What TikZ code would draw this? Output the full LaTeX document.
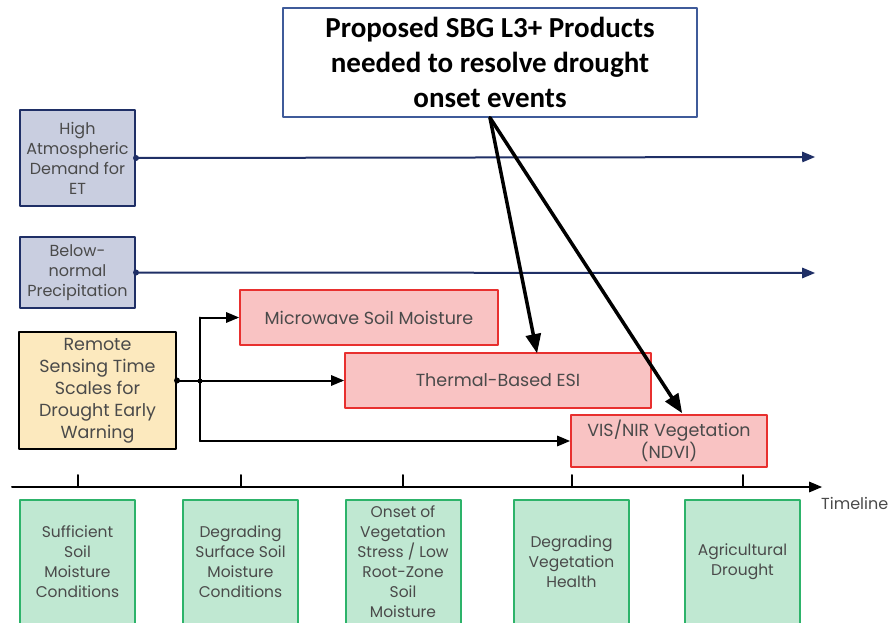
\documentclass[tikz,border=0pt]{standalone}
\usepackage{fontspec}
\setmainfont{Poppins}
\newfontfamily\calibri{Carlito}
\usepackage{tikz}
\usetikzlibrary{arrows}

\definecolor{factorfill}{HTML}{C9CEE0}
\definecolor{navy}{HTML}{1F2F66}
\definecolor{rsfill}{HTML}{FCE9BE}
\definecolor{prodfill}{HTML}{F9C3C3}
\definecolor{prodline}{HTML}{E8302F}
\definecolor{stagefill}{HTML}{C0E8D2}
\definecolor{stageline}{HTML}{2DB36A}
\definecolor{txtgray}{HTML}{4A4A4A}
\definecolor{boxblue}{HTML}{3F5B9A}

\begin{document}
\begin{tikzpicture}[line cap=round,line join=round,>=triangle 45,x=1pt,y=-1pt]
\useasboundingbox (0,0) rectangle (889,623);
\tikzstyle{txt}=[text=txtgray,align=center,font=\fontsize{16}{20}\selectfont,inner sep=0pt]
\tikzstyle{factor}=[txt,draw=navy,fill=factorfill,line width=2pt,minimum width=115]
\tikzstyle{rsbox}=[txt,draw=black,fill=rsfill,line width=2pt,minimum width=157,minimum height=117,font=\fontsize{17.5}{22}\selectfont]
\tikzstyle{product}=[txt,draw=prodline,fill=prodfill,line width=2pt,font=\fontsize{17.5}{21}\selectfont]
\tikzstyle{stage}=[txt,draw=stageline,fill=stagefill,line width=2pt,minimum width=115,minimum height=124,font=\fontsize{15.5}{20}\selectfont]
\tikzstyle{link}=[line width=2pt]
\tikzstyle{bigarrow}=[line width=3.5pt,->]

% drivers on the left
\node[factor,minimum height=96] (hiET) at (77.5,158) {High\\Atmospheric\\Demand for\\ET};
\node[factor,minimum height=71] (precip) at (77.5,272.5) {Below-\\normal\\Precipitation};
\node[rsbox] (rs) at (97.5,390.5) {Remote\\Sensing Time\\Scales for\\Drought Early\\Warning};

% remote sensing products
\node[product,minimum width=258,minimum height=55] (mw) at (369,317.5) {Microwave Soil Moisture};
\node[product,minimum width=306,minimum height=55] (esi) at (498,380.5) {Thermal-Based ESI};
\node[product,minimum width=196,minimum height=52] (ndvi) at (669,441) {VIS/NIR Vegetation\\(NDVI)};

\node[draw=boxblue,fill=white,line width=1.5pt,minimum width=414,minimum height=109,align=center,
  font=\calibri\bfseries\fontsize{29}{35}\selectfont,inner sep=0pt] (sbg) at (490,62.5)
  {Proposed SBG L3+ Products\\needed to resolve drought\\onset events};

% stages along the timeline
\node[stage] (s1) at (77.5,562) {Sufficient\\Soil\\Moisture\\Conditions};
\node[stage] (s2) at (240.5,562) {Degrading\\Surface Soil\\Moisture\\Conditions};
\node[stage] (s3) at (403,562) {Onset of\\Vegetation\\Stress / Low\\Root-Zone\\Soil\\Moisture};
\node[stage] (s4) at (571.5,562) {Degrading\\Vegetation\\Health};
\node[stage] (s5) at (742.5,562) {Agricultural\\Drought};

% horizontal driver lines
\coordinate (hiEnd) at (815,157);
\coordinate (prEnd) at (815,273);
\draw[navy,link,->] (hiET.east) -- (hiEnd);
\draw[navy,link,->] (precip.east) -- (prEnd);
\fill[navy] (hiET.east) circle (3pt);
\fill[navy] (precip.east) circle (3pt);

% branches from the remote sensing box
\coordinate (rsOut) at (rs.east |- esi.west);
\coordinate (jn) at (200,381);
\draw[link,->] (rsOut) -- (esi.west);
\draw[link,->] (jn |- mw.west) -- (mw.west);
\draw[link,->] (jn |- ndvi.west) -- (ndvi.west);
\draw[link] (jn |- mw.west) -- (jn |- ndvi.west);
\fill (rsOut) circle (3pt);
\fill (jn) circle (2.5pt);

% timeline
\coordinate (tlStart) at (12,487);
\coordinate (tlEnd) at (822,487);
\draw[link,->] (tlStart) -- (tlEnd);
\foreach \s in {s1,s2,s3,s4,s5}
  \draw[link] (\s.north |- tlStart) -- ++(0,-12);
\node[txt,anchor=west,font=\fontsize{16}{18}\selectfont] (tl) at (821,503) {Timeline};

% proposed products
\draw[bigarrow] (sbg.south) -- (537,353);
\draw[bigarrow] (sbg.south) -- (682,413);
\end{tikzpicture}
\end{document}
